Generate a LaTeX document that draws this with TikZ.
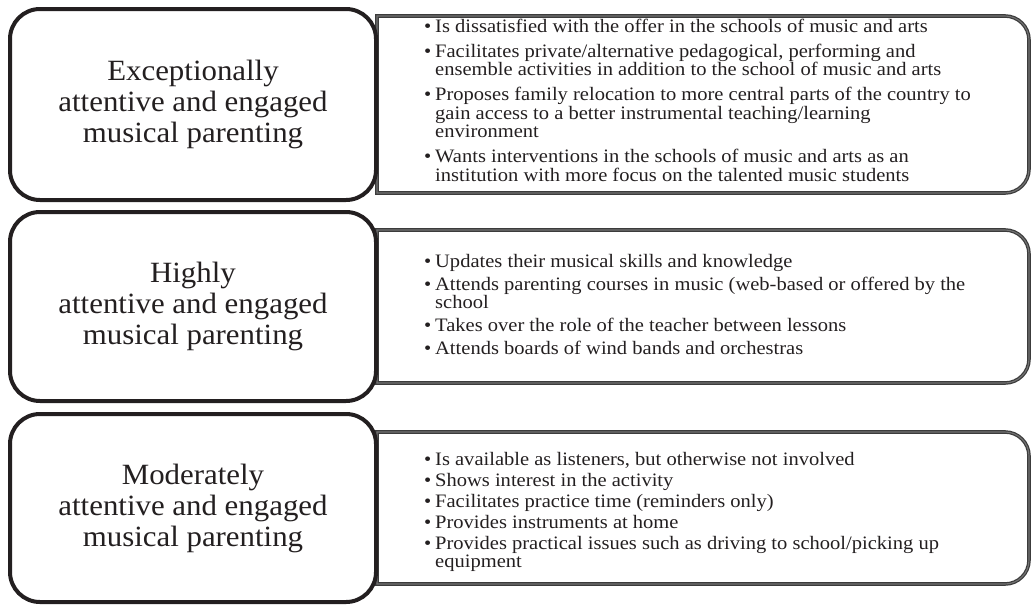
\documentclass[tikz,border=0pt]{standalone}
\usepackage{fontspec}
\setmainfont{Liberation Serif}
\newfontfamily\levelfont[FakeStretch=1.05]{Liberation Serif}
\newfontfamily\listfont[FakeStretch=1.08]{Liberation Serif}
\newlength\gapsize
\newcommand\bul[1]{\noindent\hangindent=11pt\hangafter=1\makebox[11pt][l]{\textbullet}#1\par\vspace{\gapsize}}
\newcommand\bullist[2]{\parbox[t]{600pt}{\lineskiplimit=-20pt\setlength\gapsize{#1}\setlength\parskip{0pt}\raggedright#2}}
\begin{document}
\begin{tikzpicture}[x=1pt,y=1pt,
  levelbox/.style={draw={rgb,255:red,35;green,31;blue,32}, line width=4pt, rounded corners=30pt,
    minimum width=366pt, inner sep=0pt, align=center,
    font=\levelfont\fontsize{29.4}{31}\selectfont, text={rgb,255:red,35;green,31;blue,32}},
  panel/.style={minimum width=652pt, inner sep=0pt, outer sep=0pt},
  rim/.style={line width=3.6pt, draw={rgb,255:red,60;green,60;blue,60}},
  rimcore/.style={line width=1.1pt, draw={rgb,255:red,115;green,115;blue,115}},
  listtext/.style={anchor=base west, inner sep=0pt,
    font=\listfont\fontsize{19}{18.5}\selectfont, text={rgb,255:red,35;green,31;blue,32}}]
\useasboundingbox (0,0) rectangle (1033,-606);

% frames of the three description panels
\node[panel, minimum height=177pt] (r1) at (703,-104.5) {};
\node[panel, minimum height=153pt] (r2) at (703,-306.5) {};
\node[panel, minimum height=152pt] (r3) at (703,-508) {};
\foreach \p in {r1,r2,r3}{
  \foreach \s in {rim,rimcore}{
    \draw[\s] (\p.north west) -- ([xshift=-24pt]\p.north east)
      arc[start angle=90,end angle=0,radius=24pt]
      -- ([yshift=24pt]\p.south east)
      arc[start angle=0,end angle=-90,radius=24pt]
      -- (\p.south west) -- cycle;
  }
}

% level boxes
\node[levelbox, minimum height=191pt, fill=white] (l1) at (193,-104.5)
  {Exceptionally\\attentive and engaged\\musical parenting};
\node[levelbox, minimum height=189pt, fill=white] (l2) at (193,-306.5)
  {Highly\\attentive and engaged\\musical parenting};
\node[levelbox, minimum height=188pt, fill=white] (l3) at (193,-508)
  {Moderately\\attentive and engaged\\musical parenting};

% bullet lists
\node[listtext] (t1) at (424,-32) {\bullist{6.5pt}{%
  \bul{Is dissatisfied with the offer in the schools of music and arts}
  \bul{Facilitates private/alternative pedagogical, performing and\newline ensemble activities in addition to the school of music and arts}
  \bul{Proposes family relocation to more central parts of the country to\newline gain access to a better instrumental teaching/learning\newline environment}
  \bul{Wants interventions in the schools of music and arts as an\newline institution with more focus on the talented music students}}};
\node[listtext] (t2) at (424,-267) {\bullist{4.5pt}{%
  \bul{Updates their musical skills and knowledge}
  \bul{Attends parenting courses in music (web-based or offered by the\newline school}
  \bul{Takes over the role of the teacher between lessons}
  \bul{Attends boards of wind bands and orchestras}}};
\node[listtext] (t3) at (424,-465) {\bullist{2.5pt}{%
  \bul{Is available as listeners, but otherwise not involved}
  \bul{Shows interest in the activity}
  \bul{Facilitates practice time (reminders only)}
  \bul{Provides instruments at home}
  \bul{Provides practical issues such as driving to school/picking up\newline equipment}}};
\end{tikzpicture}
\end{document}
